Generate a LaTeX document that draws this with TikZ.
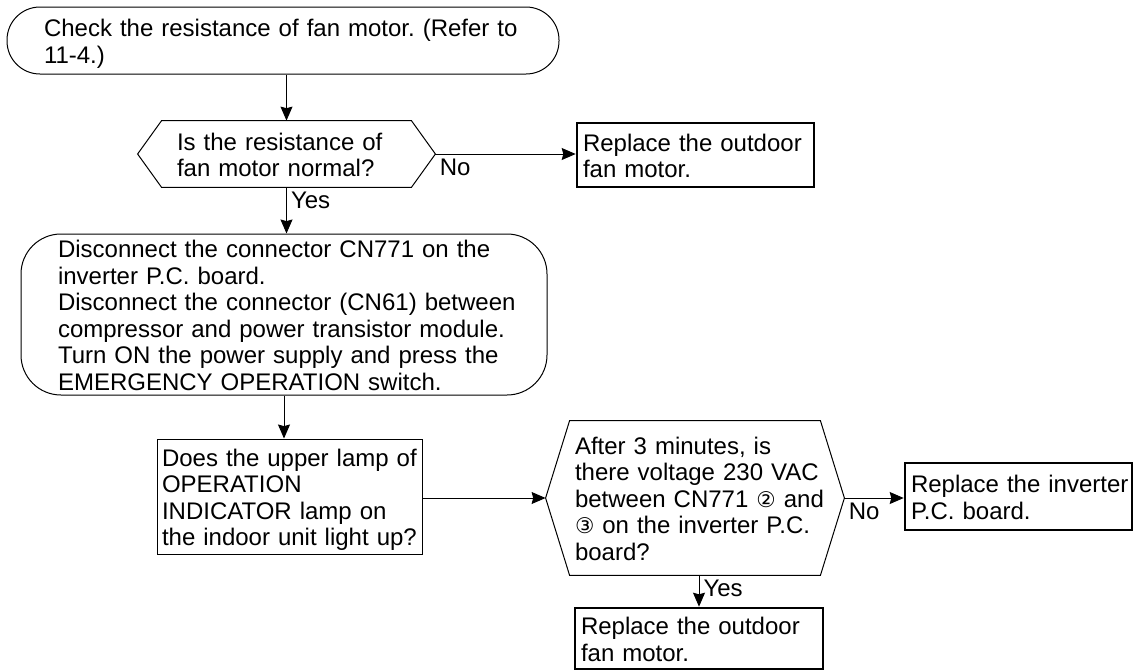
\documentclass[tikz,border=0pt]{standalone}
\usepackage{fontspec}
\setmainfont{Liberation Sans}
\newfontfamily\circfont{DejaVu Sans}[Scale=0.9]
\usetikzlibrary{arrows.meta,calc}
\frenchspacing
\newcommand{\lines}[1]{\raisebox{-2pt}[\height][\depth]{\begin{tabular}{@{}l@{}}#1\end{tabular}}}
\tikzset{
  txt/.style={font=\fontsize{12}{13.25}\selectfont, align=left, inner ysep=0pt},
  thinbox/.style={txt, draw, line width=0.5pt},
  thickbox/.style={txt, draw, line width=1.3pt},
  hexbox/.style={txt},
  arr/.style={line width=0.5pt, -{Stealth[length=7pt,width=6pt,inset=0.8pt]}},
  lbl/.style={font=\fontsize{12}{13.25}\selectfont, inner sep=2pt, anchor=north west}
}

\begin{document}
\begin{tikzpicture}[x=0.5pt,y=-0.5pt]
  \useasboundingbox (0,0) rectangle (1135,670);

  % first check
  \node[thinbox, rounded corners=16.5pt, minimum width=276pt, minimum height=33.5pt, inner xsep=18.5pt, text width=239pt] (start) at (283,40.5) {\lines{Check the resistance of fan motor. (Refer to\\11-4.)}};
  \node[hexbox, minimum width=124.5pt, minimum height=33pt, inner xsep=7.5pt, text width=109.5pt] (q1) at (286.5,154) {\lines{Is the resistance of\\fan motor normal?}};
  \node[thickbox, minimum width=118.5pt, minimum height=32pt, inner xsep=3pt, text width=112.5pt] (r1) at (695.5,155) {\lines{Replace the outdoor\\fan motor.}};

  % disconnect and run
  \node[thinbox, rounded corners=20pt, minimum width=263pt, minimum height=80.5pt, inner xsep=18.5pt, text width=226pt] (act1) at (284,314.5) {\lines{Disconnect the connector CN771 on the\\inverter P.C. board.\\Disconnect the connector (CN61) between\\compressor and power transistor module.\\Turn ON the power supply and press the\\EMERGENCY OPERATION switch.}};
  \node[thinbox, minimum width=132.5pt, minimum height=57.5pt, inner xsep=2.5pt, text width=127.5pt] (q2) at (289.5,496.5) {\lines{Does the upper lamp of\\OPERATION\\INDICATOR lamp on\\the indoor unit light up?}};
  \node[hexbox, minimum width=125pt, minimum height=77pt, inner xsep=2.5pt, text width=120pt] (q3) at (695,498) {\lines{After 3 minutes, is\\there voltage 230 VAC\\between CN771 {\circfont ②} and\\{\circfont ③} on the inverter P.C.\\board?}};
  \node[thickbox, minimum width=113.5pt, minimum height=33.5pt, inner xsep=3pt, text width=107.5pt] (r2) at (1018.5,496.5) {\lines{Replace the inverter\\P.C. board.}};
  \node[thickbox, minimum width=124pt, minimum height=30.5pt, inner xsep=3pt, text width=118pt] (r3) at (699,638.5) {\lines{Replace the outdoor\\fan motor.}};

  % hexagon outlines
  \foreach \h in {q1,q3} {
    \coordinate (\h l) at ($(\h.west)+(-24,0)$);
    \coordinate (\h r) at ($(\h.east)+(24,0)$);
    \draw[line width=0.5pt] (\h.north west) -- (\h.north east) -- (\h r) -- (\h.south east) -- (\h.south west) -- (\h l) -- cycle;
  }

  % connectors
  \draw[arr] (q1.north |- start.south) -- (q1.north);
  \draw[arr] (q1r) -- (q1r -| r1.west) node[lbl, pos=0] (no1) {No};
  \draw[arr] (q1.south) -- (q1.south |- act1.north) node[lbl, pos=0] (yes1) {Yes};
  \draw[arr] (act1.south) -- (act1.south |- q2.north);
  \draw[arr] (q3l -| q2.east) -- (q3l);
  \draw[arr] (q3r) -- (q3r -| r2.west) node[lbl, pos=0] (no2) {No};
  \draw[arr] (r3.north |- q3.south) -- (r3.north) node[lbl, pos=0] (yes2) {Yes};
\end{tikzpicture}
\end{document}
